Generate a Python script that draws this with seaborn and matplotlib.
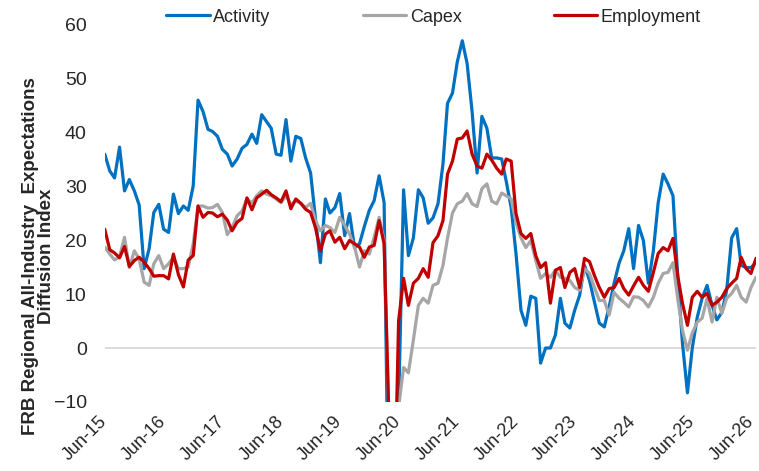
import numpy as np
import pandas as pd
import matplotlib as mpl
mpl.use("Agg")
import matplotlib.pyplot as plt
import matplotlib.dates as mdates
import matplotlib.transforms as mtransforms
import seaborn as sns

# monthly readings, May-15 .. Jun-26
activity = [35.9, 32.8, 31.5, 37.2, 29.1, 31.2, 29.1, 26.5, 14.7, 18.4,
            25.1, 26.6, 22.0, 21.4, 28.5, 24.9, 26.3, 25.5, 30.0, 45.9,
            43.8, 40.5, 40.1, 39.2, 36.8, 35.9, 33.7, 35.0, 37.0, 37.7,
            39.6, 37.9, 43.2, 41.9, 40.7, 35.9, 35.7, 42.3, 34.6, 39.2,
            38.8, 35.2, 32.4,
            24.0, 15.8, 27.6, 25.0, 26.0, 28.6, 20.8, 24.9, 18.6, 19.3,
            22.5, 25.5, 27.3, 31.9,
            26.9, -35.0, -40.0, -11.0,
            29.3, 17.1, 20.4, 29.3, 27.8, 23.1, 24.1, 26.7, 34.1, 45.3,
            47.2, 53.0, 56.9, 52.7, 43.8, 32.4, 42.9, 40.7, 35.2, 35.2,
            35.0, 30.9, 26.0, 17.5, 7.0, 4.2, 9.6, 9.2, -2.8, 0.0,
            0.0, 2.4, 9.2, 4.6, 3.7, 7.0, 9.8, 15.3, 12.5, 8.5,
            4.6, 3.9, 7.6, 12.0, 15.7, 18.0, 22.1, 14.7, 22.7, 19.9,
            12.0, 18.0, 26.9, 32.2, 30.4, 28.2, 12.5, 0.9, -8.3, 0.0,
            5.7, 9.2, 11.6, 7.9, 5.2, 6.6, 10.7, 20.4, 22.1, 15.3,
            14.9, 14.9, 15.8]

capex = [18.7, 17.4, 16.3, 16.9, 20.5, 14.9, 18.0, 16.5, 12.2, 11.6,
         15.6, 17.1, 14.7, 15.6, 16.8, 14.7, 14.7, 15.0, 19.3,
         26.3, 26.3, 25.9, 26.0, 26.6, 25.1, 21.0, 22.3, 24.5, 25.4,
         27.6, 26.9, 28.2, 29.1, 28.5, 28.2, 27.6, 26.9, 28.2, 26.6,
         27.2, 26.8, 26.0, 26.8, 23.6,
         21.7, 22.7, 22.3, 21.4, 24.2, 22.7, 21.1, 18.7, 15.0, 18.0,
         17.4, 20.5, 24.2, 19.9,
         -12.0, -30.0, -11.0, -3.6, -4.6, 1.5,
         7.9, 9.2, 8.3, 11.6, 12.0, 15.3, 20.3, 25.0, 26.7, 27.2,
         28.6, 26.7, 26.2, 29.5, 30.4, 27.2, 26.7, 28.7, 28.2, 27.6,
         23.2, 20.4,
         18.6, 19.9, 16.2, 12.9, 13.8, 13.1, 14.4, 13.1, 12.9, 12.5,
         11.2, 10.7, 14.7, 13.8, 11.2, 8.8, 8.8, 6.1, 10.3, 9.2,
         8.5, 7.6,
         9.5, 9.4, 8.8, 7.6, 9.4, 12.0, 13.8, 14.0, 15.8, 8.8,
         3.3, -0.4, 2.8, 4.8, 5.5, 9.2, 4.8, 9.4, 6.4, 9.2,
         10.1, 11.6, 9.4, 8.5, 11.2, 13.1]

employment = [22.0, 18.2, 17.6, 16.7, 18.8, 15.1, 16.2, 16.8, 15.9, 14.7,
              13.3, 13.4, 13.4, 12.8, 17.4, 13.6, 11.3, 16.3, 17.1,
              26.3, 24.2, 25.1, 25.0, 24.3, 24.8, 23.7, 21.7, 23.3, 24.0,
              27.8, 25.6, 27.8, 28.5, 29.2, 28.4, 27.8, 27.1, 29.1, 25.8,
              27.6, 26.8, 25.7, 25.1,
              22.3, 18.0, 21.1, 21.7, 19.6, 20.5, 18.4, 19.9, 19.3, 18.7,
              16.8, 18.7, 19.0, 23.6, 19.3,
              -12.0, -35.0, 5.0,
              12.9, 7.9, 12.0, 12.9, 14.7, 13.1, 19.5, 20.8, 23.6, 32.2,
              34.6, 38.7, 38.9, 40.2, 35.9, 33.7, 33.3, 35.9, 34.8, 33.3,
              32.2, 35.0, 34.6, 24.9, 21.2, 20.3, 21.2, 17.1, 14.9, 15.8,
              8.3, 14.4, 14.9, 11.2, 14.0, 14.7, 11.2, 16.6, 16.0, 13.4,
              11.2, 9.4, 11.0, 11.2, 12.9, 11.0, 9.8, 11.5, 13.1, 11.6,
              10.5, 14.0, 17.5, 18.6, 18.0, 20.3, 13.1, 8.3, 4.2, 9.4,
              10.5, 9.4, 10.1, 7.9, 8.5, 9.4, 11.0, 12.0, 12.9, 16.8,
              14.7, 13.8, 16.6]

series_names = ["Activity", "Capex", "Employment"]
colors = ["#0070C0", "#A6A6A6", "#C00000"]

dates = pd.date_range("2015-05-01", periods=len(activity), freq="MS")
df = pd.DataFrame({"date": dates, "Activity": activity,
                   "Capex": capex, "Employment": employment})
long = df.melt(id_vars="date", var_name="series", value_name="value")

sns.set_theme(style="white")
plt.rcParams["font.family"] = ["Liberation Sans", "DejaVu Sans"]

fig = plt.figure(figsize=(7.59, 4.71), dpi=100)
ax = fig.add_axes([0.138, 0.1465, 0.858, 0.8025])

ax.axhline(0, color="#D9D9D9", lw=1.3, zorder=0.5)
sns.lineplot(data=long, x="date", y="value", hue="series",
             hue_order=series_names, palette=colors, linewidth=2.3, ax=ax)

ax.set_ylim(-10, 60)
ax.set_yticks(np.arange(-10, 61, 10))
ax.set_xlim(dates[0], dates[-1])
ticks = pd.date_range("2015-06-01", "2026-06-01", freq="12MS")
ax.set_xticks(ticks)
ax.xaxis.set_major_formatter(mdates.DateFormatter("%b-%y"))

ax.tick_params(axis="y", length=0, pad=13, labelsize=14)
ax.tick_params(axis="x", length=0, pad=12, labelsize=13)
shift = mtransforms.ScaledTranslation(-0.05, 0, fig.dpi_scale_trans)
for lab in ax.get_xticklabels():
    lab.set_rotation(45)
    lab.set_ha("right")
    lab.set_va("center")
    lab.set_rotation_mode("anchor")
    lab.set_transform(lab.get_transform() + shift)
for s in ax.spines.values():
    s.set_visible(False)
ax.grid(False)

ax.set_xlabel("")
ax.set_ylabel("FRB Regional All-Industry  Expectations\nDiffusion Index",
              fontsize=13.5, fontweight="bold", linespacing=0.95)
ax.yaxis.set_label_coords(-0.076, 0.385)

sns.move_legend(ax, "center", bbox_to_anchor=(0.505, 1.018), ncol=3,
                title=None, frameon=False, fontsize=13,
                handlelength=2.4, handletextpad=0.2, columnspacing=5.1)
for h in ax.get_legend().get_lines():
    h.set_linewidth(2.3)

fig.savefig("out.png", dpi=100)
